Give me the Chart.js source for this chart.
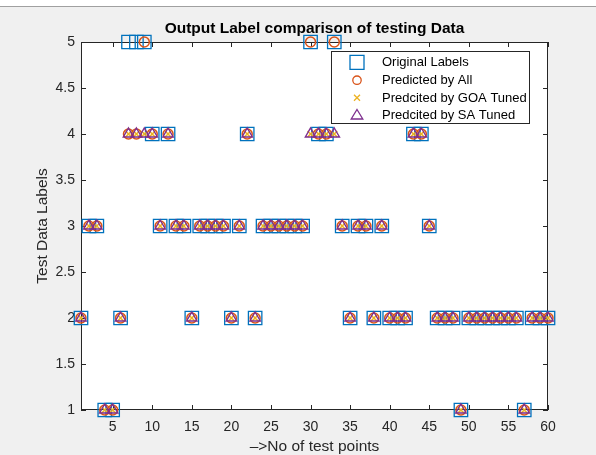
<!DOCTYPE html>
<html><head><meta charset="utf-8">
<script src="https://cdn.jsdelivr.net/npm/chart.js@4.4.0/dist/chart.umd.min.js"></script>
<style>html,body{margin:0;padding:0;background:#f0f0f0;overflow:hidden}canvas{display:block}</style>
</head><body><canvas id="c" width="596" height="455"></canvas>
<script>
// ---- data ----
const testPoints = [1,2,3,4,5,6,7,8,9,10,11,12,13,14,15,16,17,18,19,20,21,22,23,24,25,26,27,28,29,30,31,32,33,34,35,36,37,38,39,40,41,42,43,44,45,46,47,48,49,50,51,52,53,54,55,56,57,58,59,60];
const originalLabels = [2,3,3,1,1,2,5,5,5,4, 3,4,3,3,2,3,3,3,3,2, 3,4,2,3,3,3,3,3,3,5, 4,4,5,3,2,3,3,2,3,2, 2,2,4,4,3,2,2,2,1,2, 2,2,2,2,2,2,1,2,2,2];
const predictedAll   = [2,3,3,1,1,2,4,4,5,4, 3,4,3,3,2,3,3,3,3,2, 3,4,2,3,3,3,3,3,3,5, 4,4,5,3,2,3,3,2,3,2, 2,2,4,4,3,2,2,2,1,2, 2,2,2,2,2,2,1,2,2,2];
const predictedGOA   = [2,3,3,1,1,2,4,4,4,4, 3,4,3,3,2,3,3,3,3,2, 3,4,2,3,3,3,3,3,3,4, 4,4,4,3,2,3,3,2,3,2, 2,2,4,4,3,2,2,2,1,2, 2,2,2,2,2,2,1,2,2,2];
const predictedSA    = [2,3,3,1,1,2,4,4,4,4, 3,4,3,3,2,3,3,3,3,2, 3,4,2,3,3,3,3,3,3,4, 4,4,4,3,2,3,3,2,3,2, 2,2,4,4,3,2,2,2,1,2, 2,2,2,2,2,2,1,2,2,2];
const seriesNames = ['Original Labels','Predicted by All','Predcited by GOA Tuned','Predcited by SA Tuned'];
const xTicks = [5,10,15,20,25,30,35,40,45,50,55,60];
const yTicks = [1,1.5,2,2.5,3,3.5,4,4.5,5];
const yTickLabels = ['1','1.5','2','2.5','3','3.5','4','4.5','5'];
const titleText = 'Output Label comparison of testing Data';
const xTitle = '\u2013>No of test points';
const yTitle = 'Test Data Labels';

// ---- styling ----
const FONT = "'Liberation Sans', Arial, Helvetica, sans-serif";
const AX = '#262626';
const COLORS = ['#0072BD','#D95319','#EDB120','#7E2F8E'];

function pts(vals){ return vals.map((v,i)=>({x:testPoints[i], y:v})); }

function drawIcon(ctx, kind, x, y, color){
  ctx.save();
  ctx.strokeStyle = color; ctx.lineWidth = 1.3;
  ctx.beginPath();
  if(kind===0){ ctx.rect(x-7, y-7, 14, 14); }
  else if(kind===1){ ctx.arc(x, y, 4.2, 0, Math.PI*2); }
  else if(kind===2){ ctx.moveTo(x-3,y-3); ctx.lineTo(x+3,y+3); ctx.moveTo(x+3,y-3); ctx.lineTo(x-3,y+3); }
  else { ctx.moveTo(x, y-5.5); ctx.lineTo(x+5.8, y+4); ctx.lineTo(x-5.8, y+4); ctx.closePath(); }
  ctx.stroke();
  ctx.restore();
}

const deco = {
  id:'deco',
  beforeDraw(chart){
    const {ctx, width, height, chartArea:a} = chart;
    ctx.save();
    ctx.fillStyle='#f0f0f0'; ctx.fillRect(0,0,width,height);
    ctx.fillStyle='#ffffff'; ctx.fillRect(0,0,width,6);
    ctx.fillStyle='#a0a0a0'; ctx.fillRect(0,6,width,1);
    ctx.fillStyle='#ffffff'; ctx.fillRect(a.left,a.top,a.right-a.left,a.bottom-a.top);
    ctx.restore();
  },
  beforeDatasetsDraw(chart){
    const {ctx, chartArea:a, scales} = chart;
    const x = scales.x, y = scales.y;
    ctx.save();
    ctx.strokeStyle=AX; ctx.lineWidth=1;
    ctx.strokeRect(a.left+0.5, a.top+0.5, a.right-a.left-1, a.bottom-a.top-1);
    ctx.beginPath();
    xTicks.forEach(v=>{const px=Math.round(x.getPixelForValue(v))+0.5;
      ctx.moveTo(px,a.bottom); ctx.lineTo(px,a.bottom-5); ctx.moveTo(px,a.top); ctx.lineTo(px,a.top+5);});
    yTicks.forEach(v=>{const py=Math.round(y.getPixelForValue(v))+0.5;
      ctx.moveTo(a.left,py); ctx.lineTo(a.left+5,py); ctx.moveTo(a.right,py); ctx.lineTo(a.right-5,py);});
    ctx.stroke();
    ctx.restore();
  },
  afterDraw(chart){
    const {ctx, chartArea:a} = chart;
    const cx = (a.left+a.right)/2;
    ctx.save();
    ctx.fillStyle='#000'; ctx.textAlign='center'; ctx.textBaseline='alphabetic';
    ctx.font = "bold 15.5px " + FONT;
    ctx.fillText(titleText, cx, 33);
    ctx.fillStyle=AX;
    ctx.font = "15.5px " + FONT;
    ctx.fillText(xTitle, cx, 451);
    ctx.save();
    ctx.translate(43, (a.top+a.bottom)/2);
    ctx.rotate(-Math.PI/2);
    ctx.textBaseline='middle';
    ctx.fillText(yTitle, 0, 0);
    ctx.restore();
    // legend
    const lx=331.5, ly=51.5, lw=198, lh=72;
    ctx.fillStyle='#fff'; ctx.fillRect(lx,ly,lw,lh);
    ctx.strokeStyle=AX; ctx.lineWidth=1; ctx.strokeRect(lx,ly,lw,lh);
    const rows=[62.3,80.2,97.8,115];
    ctx.font = "13px " + FONT; ctx.textAlign='left'; ctx.textBaseline='middle'; ctx.fillStyle='#000';
    seriesNames.forEach((n,i)=>{
      drawIcon(ctx, i, 357, rows[i], COLORS[i]);
      ctx.fillText(n, 382, rows[i]+0.5);
    });
    ctx.restore();
  }
};

new Chart(document.getElementById('c'), {
  type:'scatter',
  data:{ datasets:[
    {label:seriesNames[0], data:pts(originalLabels), pointStyle:'rect', pointRadius:9.5, borderColor:COLORS[0], backgroundColor:'rgba(0,0,0,0)', borderWidth:1.3, order:4, clip:false},
    {label:seriesNames[1], data:pts(predictedAll), pointStyle:'circle', pointRadius:5, borderColor:COLORS[1], backgroundColor:'rgba(0,0,0,0)', borderWidth:1.5, order:3, clip:false},
    {label:seriesNames[2], data:pts(predictedGOA), pointStyle:'crossRot', pointRadius:4.2, borderColor:COLORS[2], backgroundColor:'rgba(0,0,0,0)', borderWidth:1.5, order:2, clip:false},
    {label:seriesNames[3], data:pts(predictedSA), pointStyle:'triangle', pointRadius:6, borderColor:COLORS[3], backgroundColor:'rgba(0,0,0,0)', borderWidth:1.4, order:1, clip:false}
  ]},
  options:{
    responsive:false, animation:false, devicePixelRatio:1,
    layout:{padding:{left:0,right:48,top:42,bottom:0}},
    plugins:{legend:{display:false}, title:{display:false}, tooltip:{enabled:false}},
    events:[],
    scales:{
      x:{type:'linear', min:1, max:60,
         afterBuildTicks(s){ s.ticks = xTicks.map(v=>({value:v})); },
         afterFit(s){ s.height = 45; },
         grid:{display:false, drawTicks:false}, border:{display:false},
         ticks:{autoSkip:false, maxRotation:0, padding:9, color:AX, font:{family:FONT, size:14}}},
      y:{type:'linear', min:1, max:5,
         afterBuildTicks(s){ s.ticks = yTicks.map(v=>({value:v})); },
         afterFit(s){ s.width = 81; },
         grid:{display:false, drawTicks:false}, border:{display:false},
         ticks:{padding:6, color:AX, font:{family:FONT, size:14},
                callback(v){ const i = yTicks.indexOf(v); return i>=0 ? yTickLabels[i] : ''; }}}
    }
  },
  plugins:[deco]
});
</script></body></html>
